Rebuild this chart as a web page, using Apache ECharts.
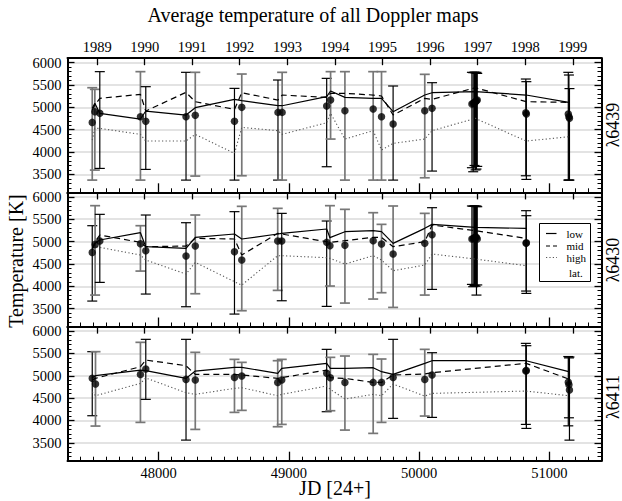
<!DOCTYPE html>
<html><head><meta charset="utf-8">
<script src="https://cdn.jsdelivr.net/npm/echarts@6/dist/echarts.min.js"></script>
<style>html,body{margin:0;padding:0;background:#fff}#c{width:622px;height:501px}</style>
</head><body><div id="c"></div>
<script>
// ---------- axis ticks ----------
const yearLabels = ['1989','1990','1991','1992','1993','1994','1995','1996','1997','1998','1999'];
const yearJD = [47527.5,47892.5,48257.5,48622.5,48988.5,49353.5,49718.5,50083.5,50449.5,50814.5,51179.5];
const jdTicks = [48000,49000,50000,51000];
const tempTicks = [3500,4000,4500,5000,5500,6000];
const panelNames = ['λ6439','λ6430','λ6411'];
const legendNames = ['low','mid','high','lat.'];

// ---------- panel 1 (λ6439) ----------
const p1JD   = [47490,47510,47548,47860,47901,48210,48281,48582,48638,48916,48948,49290,49320,49430,49647,49711,49800,50043,50099,50405,50415,50425,50433,50440,50446,50819,50823,51145,51150,51154];
const p1T    = [4664,4903,4866,4791,4687,4791,4821,4687,5000,4888,4888,5030,5164,4925,4963,4791,4627,4925,4978,5075,5090,5110,5127,5150,5164,4880,4851,4851,4790,4754];
const p1Top  = [5440,5403,5799,5799,5463,5784,5784,5425,5746,5612,5784,5649,5799,5799,5799,5799,5478,5739,5552,5784,5776,5790,5770,5784,5760,5634,5575,5784,5724,5420];
const p1Bot  = [3373,3597,3634,3373,3612,3373,3463,3373,3470,3373,3373,3672,4291,3373,3373,3373,3373,3425,3575,3650,3560,3700,3600,3620,3680,3470,3388,3373,3373,3373];
const p1Dark = [0,0,1,0,1,1,0,1,0,1,0,1,0,0,0,0,1,0,1,1,1,1,1,1,1,1,1,1,1,1];
const p1LineJD = [47490,47510,47548,47860,47901,48210,48281,48582,48638,48916,48948,49290,49320,49430,49647,49711,49800,50043,50099,50432,50821,51148];
const p1Low  = [4978,5090,4866,4739,4918,4828,4993,5179,5149,5037,5037,5239,5366,5224,5202,5202,4903,5276,5328,5351,5276,5112];
const p1Mid  = [4940,5052,5202,5291,4918,5336,5127,4955,5328,5164,5276,5224,5314,5314,5276,5254,4828,5202,5179,5440,5127,5112];
const p1High = [4269,4530,4530,4396,4246,4246,4396,3970,4552,4478,4396,4657,4866,4291,4478,4045,4194,4291,4478,4754,4246,4343];

// ---------- panel 2 (λ6430) ----------
const p2JD   = [47490,47512,47548,47860,47901,48210,48281,48582,48638,48914,48945,49290,49315,49430,49647,49711,49800,50043,50099,50405,50415,50425,50433,50440,50446,50821,50823];
const p2T    = [4758,4937,5012,4952,4796,4676,4900,4773,4587,5012,5012,4982,4908,4915,5020,4945,4721,4960,5154,5057,5070,5085,5100,5090,5060,4960,4975];
const p2Top  = [5355,5803,5609,5355,5594,5422,5594,5669,5788,5743,5631,5460,5803,5721,5646,5385,5796,5631,5758,5796,5790,5800,5785,5796,5780,5691,5579];
const p2Bot  = [3669,3803,4087,4340,3826,3542,3833,3378,3453,3908,3676,3550,4005,3624,3714,3856,3527,3803,3930,4042,3990,4020,4000,3803,4030,3893,3840];
const p2Dark = [1,0,1,0,1,1,0,1,0,0,1,1,0,0,0,0,0,0,1,1,1,1,1,1,1,1,1];
const p2LineJD = [47490,47512,47548,47860,47901,48210,48281,48582,48638,48914,48945,49290,49315,49430,49647,49711,49800,50043,50099,50432,50821];
const p2Low  = [4811,4960,5035,5199,4885,4848,5094,5169,5057,5169,5184,5281,5087,5221,5243,5221,4960,5296,5385,5318,5296];
const p2Mid  = [4848,4997,5146,4982,4885,4900,5072,5057,4699,5184,5169,4997,4982,5020,5094,5094,4885,4997,5370,5243,5072];
const p2High = [4773,4885,4870,4699,4587,4273,4534,4102,4027,4684,4684,4639,4624,4497,4684,4587,4348,4475,4721,4609,4460];

// ---------- panel 3 (λ6411) ----------
const p3JD   = [47490,47515,47860,47901,48210,48281,48582,48638,48914,48945,49290,49318,49430,49647,49711,49800,50043,50099,50819,50823,51145,51150,51154];
const p3T    = [4942,4815,5031,5151,4919,4905,4964,4994,4852,4905,5054,4957,4852,4852,4852,4964,4919,5017,5106,5120,4853,4800,4681];
const p3Top  = [5539,5539,5748,5815,5815,5524,5367,5300,5337,5367,5591,5412,5442,5479,5375,5815,5591,5516,5725,5673,5430,5400,5420];
const p3Bot  = [4106,3875,3957,4472,3561,3800,4181,4226,3860,3912,4196,4218,3785,3711,3957,4047,4099,4069,3912,3822,3880,4060,3560];
const p3Dark = [1,0,0,1,1,0,0,0,0,0,1,0,0,0,0,1,0,1,1,1,1,1,1];
const p3LineJD = [47490,47515,47860,47901,48210,48281,48582,48638,48914,48945,49290,49318,49430,49647,49711,49800,50043,50099,50821,51148];
const p3Low  = [4957,5002,5128,5114,4942,5106,5188,5188,5054,5166,5278,5166,5166,5181,5091,5031,5278,5337,5337,5091];
const p3Mid  = [4905,4942,5203,5352,5225,5031,5031,5017,4942,4957,5128,4957,4942,4852,4852,5017,5039,5069,5278,4927];
const p3High = [4643,4554,4830,4950,4621,4584,4718,4733,4554,4584,4770,4696,4479,4584,4554,4815,4546,4606,4658,4554];

const panels = [
  {jd:p1JD,t:p1T,top:p1Top,bot:p1Bot,dark:p1Dark,ljd:p1LineJD,low:p1Low,mid:p1Mid,high:p1High},
  {jd:p2JD,t:p2T,top:p2Top,bot:p2Bot,dark:p2Dark,ljd:p2LineJD,low:p2Low,mid:p2Mid,high:p2High},
  {jd:p3JD,t:p3T,top:p3Top,bot:p3Bot,dark:p3Dark,ljd:p3LineJD,low:p3Low,mid:p3Mid,high:p3High}
];

// ---------- layout ----------
const FONT = '"Liberation Serif", "Times New Roman", serif';
const XMIN = 47300, XMAX = 51400, YMIN = 3100, YMAX = 6100;
const gridTops = [58.2, 192.4, 326.6];
const gridH = 134.1;
const plain = v => String(Math.round(v));

const grid = [], xAxis = [], yAxis = [], series = [];
panels.forEach((p, i) => {
  grid.push({left: 67.5, right: 20.5, top: gridTops[i], height: gridH});
  const base = {gridIndex: i, type: 'value', min: XMIN, max: XMAX, splitLine: {show: false}};
  xAxis.push(Object.assign({}, base, {position: 'bottom', interval: 100,
    axisLine: {show: true, onZero: false, lineStyle: {color: '#000', width: 2}},
    axisTick: {show: true, inside: true, length: 4, lineStyle: {color: '#000', width: 1}},
    axisLabel: {show: false}}));
  xAxis.push(Object.assign({}, base, {position: 'bottom',
    axisLine: {show: false, onZero: false},
    axisTick: {show: true, inside: true, length: 9, customValues: jdTicks, lineStyle: {color: '#000', width: 1.3}},
    axisLabel: {show: i === 2, customValues: jdTicks, hideOverlap: false, formatter: plain,
      fontFamily: FONT, fontSize: 14.5, color: '#000', margin: 5}}));
  xAxis.push(Object.assign({}, base, {position: 'top',
    axisLine: {show: true, onZero: false, lineStyle: {color: '#000', width: 2}},
    axisTick: {show: true, inside: true, length: 7, customValues: yearJD, lineStyle: {color: '#000', width: 1.3}},
    axisLabel: {show: i === 0, customValues: yearJD, hideOverlap: false, fontFamily: FONT, fontSize: 14.5, color: '#000', margin: 4,
      formatter: v => { const k = yearJD.findIndex(j => Math.abs(j - v) < 1); return k >= 0 ? yearLabels[k] : ''; }}}));
  const ybase = {gridIndex: i, type: 'value', min: YMIN, max: YMAX};
  ['left', 'right'].forEach(pos => {
    yAxis.push(Object.assign({}, ybase, {position: pos, interval: 100,
      axisLine: {show: true, onZero: false, lineStyle: {color: '#000', width: 2}},
      axisTick: {show: true, inside: true, length: 4, lineStyle: {color: '#000', width: 1}},
      axisLabel: {show: false}, splitLine: {show: false}}));
    yAxis.push(Object.assign({}, ybase, {position: pos,
      axisLine: {show: false, onZero: false},
      axisTick: {show: true, inside: true, length: 7, customValues: tempTicks, lineStyle: {color: '#000', width: 1.3}},
      axisLabel: {show: pos === 'left', customValues: tempTicks, hideOverlap: false, formatter: plain,
        fontFamily: FONT, fontSize: 14.5, color: '#000', margin: 6},
      splitLine: {show: pos === 'left', lineStyle: {color: '#dadada', width: 1.5}}}));
  });
  const xi = 3 * i, yi = 4 * i;
  series.push({
    type: 'custom', xAxisIndex: xi, yAxisIndex: yi, z: 2, silent: true,
    data: p.jd.map((j, k) => [j, p.top[k], p.bot[k], p.dark[k]]),
    encode: {x: 0, y: [1, 2]},
    renderItem: (params, api) => {
      const x = api.value(0), a = api.coord([x, api.value(1)]), b = api.coord([x, api.value(2)]);
      const dark = api.value(3) === 1;
      const st = {stroke: dark ? '#000' : '#777', lineWidth: dark ? 1.2 : 1.7};
      const hw = 5;
      return {type: 'group', children: [
        {type: 'line', shape: {x1: a[0], y1: a[1], x2: b[0], y2: b[1]}, style: st},
        {type: 'line', shape: {x1: a[0] - hw, y1: a[1], x2: a[0] + hw, y2: a[1]}, style: st},
        {type: 'line', shape: {x1: b[0] - hw, y1: b[1], x2: b[0] + hw, y2: b[1]}, style: st}
      ]};
    }
  });
  const lineDefs = [
    {vals: p.low, style: {color: '#000', width: 1.2, type: 'solid'}},
    {vals: p.mid, style: {color: '#000', width: 1.2, type: [6, 4]}},
    {vals: p.high, style: {color: '#555', width: 1.1, type: [1.2, 2.4]}}
  ];
  lineDefs.forEach(d => series.push({
    type: 'line', xAxisIndex: xi, yAxisIndex: yi, z: 3, silent: true, showSymbol: false, symbol: 'none',
    data: p.ljd.map((j, k) => [j, d.vals[k]]), lineStyle: d.style
  }));
  series.push({
    type: 'scatter', xAxisIndex: xi, yAxisIndex: yi, z: 5, silent: true, symbolSize: 7.5,
    itemStyle: {color: '#000'}, data: p.jd.map((j, k) => [j, p.t[k]])
  });
});

const txt = (text, x, y, size, extra) => Object.assign({type: 'text', x: x, y: y, silent: true,
  style: {text: text, fontFamily: FONT, fontSize: size, fill: '#000', align: 'center', verticalAlign: 'middle'}}, extra || {});

const graphic = [
  txt('Average temperature of all Doppler maps', 313, 15, 20),
  txt('JD [24+]', 335, 488, 20),
  txt('Temperature [K]', 16, 261, 20, {rotation: Math.PI / 2}),
  txt(panelNames[0], 613, 125, 18, {rotation: Math.PI / 2}),
  txt(panelNames[1], 613, 260, 18, {rotation: Math.PI / 2}),
  txt(panelNames[2], 613, 397, 18, {rotation: Math.PI / 2}),
  {type: 'rect', silent: true, z: 50, shape: {x: 539.5, y: 223.5, width: 51, height: 58},
    style: {fill: '#fff', stroke: '#000', lineWidth: 1}},
  {type: 'line', silent: true, z: 51, shape: {x1: 546, y1: 233.5, x2: 556.5, y2: 233.5}, style: {stroke: '#000', lineWidth: 1.2}},
  {type: 'line', silent: true, z: 51, shape: {x1: 546, y1: 246, x2: 557, y2: 246}, style: {stroke: '#000', lineWidth: 1.2, lineDash: [4, 3]}},
  {type: 'line', silent: true, z: 51, shape: {x1: 546, y1: 257.5, x2: 557, y2: 257.5}, style: {stroke: '#555', lineWidth: 1.1, lineDash: [1.2, 2.2]}},
  {type: 'text', silent: true, z: 51, x: 566.5, y: 233.5, style: {text: legendNames[0], fontFamily: FONT, fontSize: 11, fill: '#000', align: 'left', verticalAlign: 'middle'}},
  {type: 'text', silent: true, z: 51, x: 566.5, y: 246, style: {text: legendNames[1], fontFamily: FONT, fontSize: 11, fill: '#000', align: 'left', verticalAlign: 'middle'}},
  {type: 'text', silent: true, z: 51, x: 566.5, y: 257.5, style: {text: legendNames[2], fontFamily: FONT, fontSize: 11, fill: '#000', align: 'left', verticalAlign: 'middle'}},
  {type: 'text', silent: true, z: 51, x: 569, y: 272.5, style: {text: legendNames[3], fontFamily: FONT, fontSize: 11, fill: '#000', align: 'left', verticalAlign: 'middle'}}
];

const chart = echarts.init(document.getElementById('c'), null, {renderer: 'svg', width: 622, height: 501});
chart.setOption({
  animation: false,
  backgroundColor: '#fff',
  textStyle: {fontFamily: FONT},
  grid: grid, xAxis: xAxis, yAxis: yAxis, series: series, graphic: graphic
});
</script>
</body></html>
